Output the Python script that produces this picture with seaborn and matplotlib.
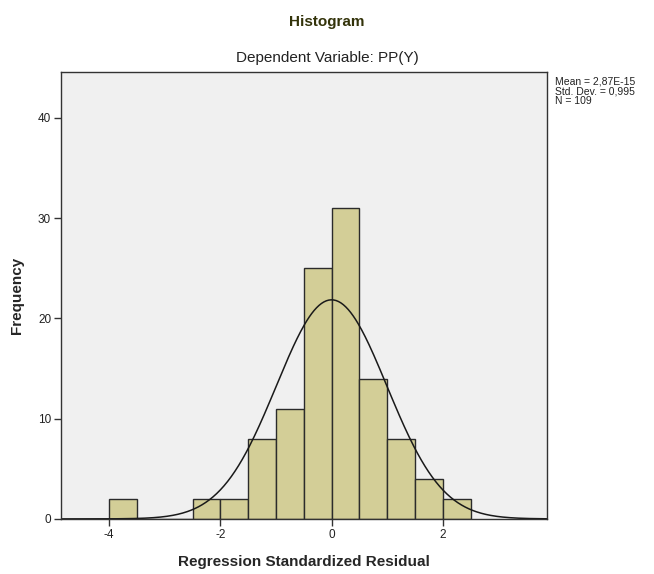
import numpy as np
import pandas as pd
import matplotlib
matplotlib.use("Agg")
import matplotlib.pyplot as plt
import seaborn as sns

# residual histogram (SPSS output)
bin_left = [-4.0, -3.5, -3.0, -2.5, -2.0, -1.5, -1.0, -0.5, 0.0, 0.5, 1.0, 1.5, 2.0]
counts = [2, 0, 0, 2, 2, 8, 11, 25, 31, 14, 8, 4, 2]
bin_width = 0.5
mean = 2.87e-15
std = 0.995
n = 109
xticks = [-4, -2, 0, 2]
yticks = [0, 10, 20, 30, 40]

sns.set_style("white")
plt.rcParams['font.family'] = ['Liberation Sans', 'DejaVu Sans']
plt.rcParams['axes.unicode_minus'] = False

df = pd.DataFrame({'resid': [b + bin_width / 2 for b in bin_left], 'count': counts})
edges = bin_left + [bin_left[-1] + bin_width]

fig = plt.figure(figsize=(6.54, 5.74), dpi=100)
ax = fig.add_axes([0.093, 0.096, 0.743, 0.779])
ax.set_facecolor('#f0f0f0')

sns.histplot(data=df, x='resid', weights='count', bins=edges, ax=ax,
             color='#d3ce97', edgecolor='#2b2b2b', linewidth=1.0, alpha=1)

# fitted normal curve
xs = np.linspace(-4.87, 3.87, 400)
ys = n * bin_width / (std * np.sqrt(2 * np.pi)) * np.exp(-0.5 * ((xs - mean) / std) ** 2)
sns.lineplot(x=xs, y=ys, ax=ax, color='#1a1a1a', linewidth=1.1)

ax.set_xlim(-4.87, 3.87)
ax.set_ylim(0, 44.6)
ax.set_xticks(xticks)
ax.set_yticks(yticks)
ax.tick_params(axis='both', direction='out', length=5, width=1, color='#333333',
               labelsize=8.5, labelcolor='#222222', pad=2)
ax.tick_params(axis='x', bottom=True)
ax.tick_params(axis='y', left=True)
for s in ax.spines.values():
    s.set_color('#333333')
    s.set_linewidth(1)

ax.set_xlabel('Regression Standardized Residual', fontsize=11, fontweight='bold', labelpad=10)
ax.set_ylabel('Frequency', fontsize=11, fontweight='bold', labelpad=10)

fig.text(0.5, 0.962, 'Histogram', ha='center', va='center', fontsize=11,
         fontweight='bold', color='#33330a')
fig.text(0.5, 0.899, 'Dependent Variable: PP(Y)', ha='center', va='center',
         fontsize=11, color='#222222')

fig.text(0.849, 0.866, 'Mean = 2,87E-15\nStd. Dev. = 0,995\nN = 109',
         ha='left', va='top', fontsize=7.5, color='#222222', linespacing=0.95)

fig.savefig('out.png', dpi=100)
